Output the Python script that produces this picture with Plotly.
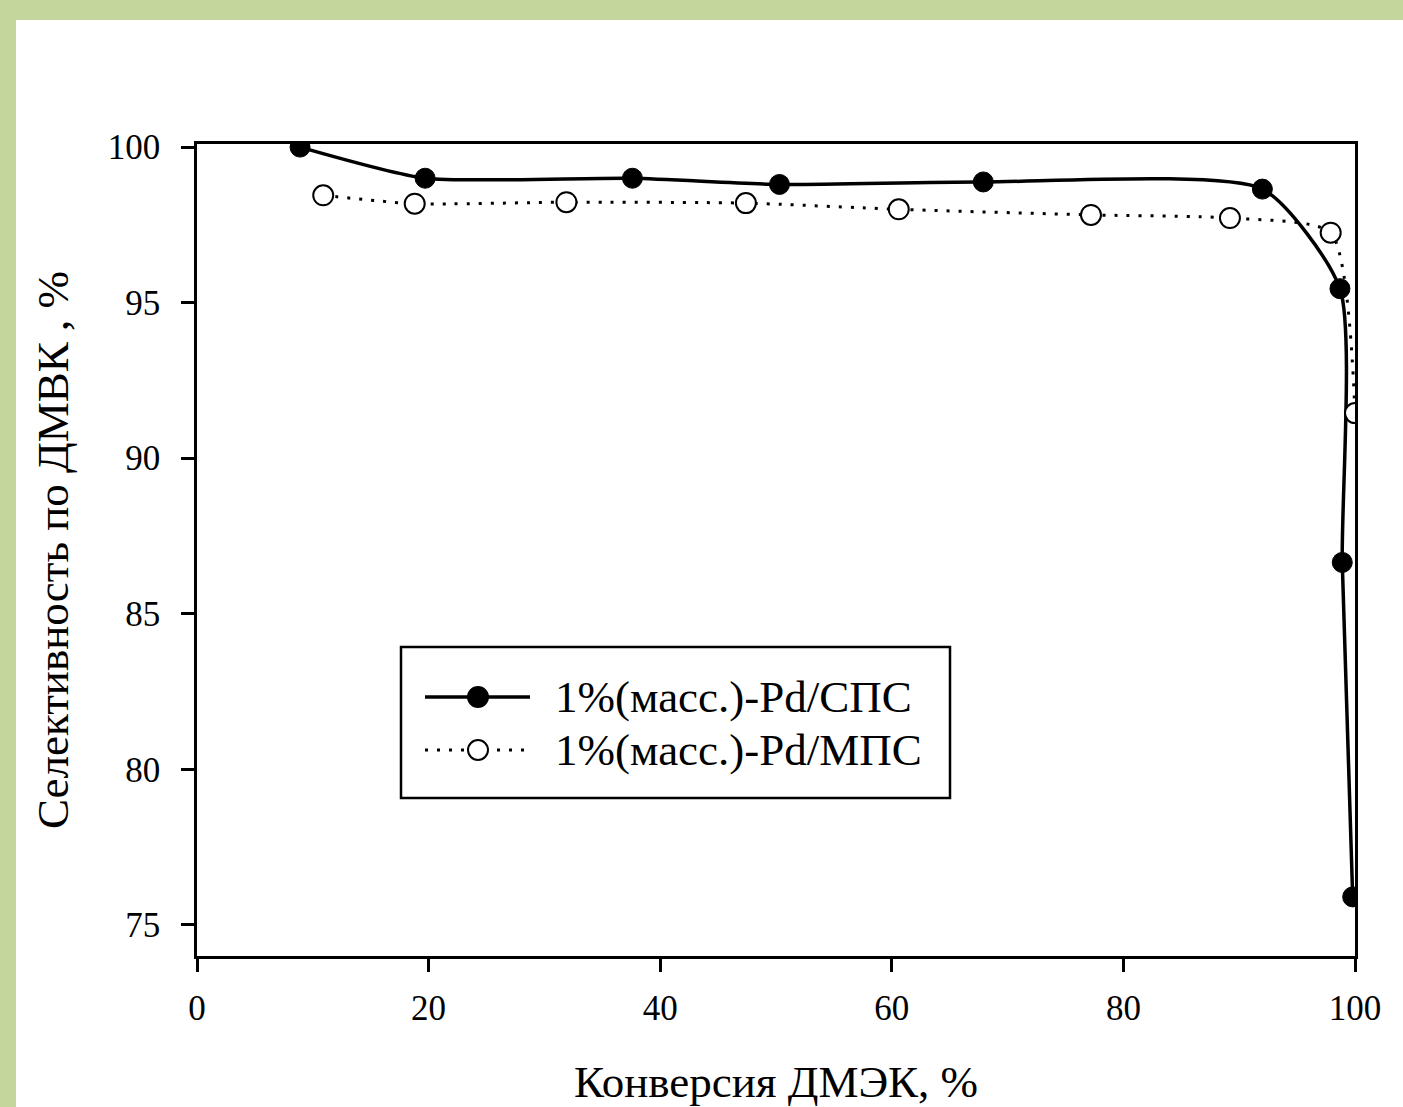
import plotly.graph_objects as go

# Data
x_sps = [8.9, 19.7, 37.6, 50.3, 67.9, 92.0, 98.7, 98.9, 99.8]
y_sps = [100.0, 99.0, 99.0, 98.8, 98.88, 98.65, 95.45, 86.65, 75.9]

x_mps = [10.9, 18.8, 31.9, 47.4, 60.6, 77.2, 89.2, 97.9, 100.0]
y_mps = [98.45, 98.18, 98.23, 98.2, 98.0, 97.82, 97.72, 97.25, 91.45]

name_sps = "1%(масс.)-Pd/СПС"
name_mps = "1%(масс.)-Pd/МПС"

x_ticks = [0, 20, 40, 60, 80, 100]
y_ticks = [75, 80, 85, 90, 95, 100]

FONT = "Liberation Serif, Times New Roman, serif"
DOT = "3px,9px"

fig = go.Figure()
fig.add_trace(go.Scatter(
    x=x_sps, y=y_sps, name=name_sps, mode="lines+markers", showlegend=False,
    line=dict(color="black", width=3.5, shape="spline", smoothing=0.6),
    marker=dict(symbol="circle", size=20, color="black", line=dict(color="black", width=1)),
))
fig.add_trace(go.Scatter(
    x=x_mps, y=y_mps, name=name_mps, mode="lines+markers", showlegend=False,
    line=dict(color="black", width=3, dash=DOT, shape="spline", smoothing=0.6),
    marker=dict(symbol="circle", size=20, color="white", line=dict(color="black", width=2)),
))

W, H = 1403, 1107
L, R, T, B = 197, 48, 144, 151
pw, ph = W - L - R, H - T - B

def px(xp):
    return (xp - L) / pw

def py(yp):
    return (H - B - yp) / ph

shapes = []
# white page over green frame
shapes.append(dict(type="rect", xref="paper", yref="paper",
                   x0=px(16), x1=px(1420), y0=py(20), y1=py(1120),
                   fillcolor="white", line=dict(width=0), layer="below"))
# legend box
shapes.append(dict(type="rect", xref="paper", yref="paper",
                   x0=px(401), x1=px(950), y0=py(647), y1=py(798),
                   fillcolor="white", line=dict(color="black", width=2.5), layer="above"))
rows = [(697, "solid", 3.5, "black", 2, name_sps), (750, DOT, 3, "white", 2, name_mps)]
annotations = []
for yc, dash, lw, fill, mlw, label in rows:
    shapes.append(dict(type="line", xref="paper", yref="paper",
                       x0=px(425), x1=px(530), y0=py(yc), y1=py(yc),
                       line=dict(color="black", width=lw, dash=dash), layer="above"))
    shapes.append(dict(type="circle", xref="paper", yref="paper",
                       xsizemode="pixel", ysizemode="pixel",
                       xanchor=px(478), yanchor=py(yc),
                       x0=-10, x1=10, y0=-10, y1=10,
                       fillcolor=fill, line=dict(color="black", width=mlw), layer="above"))
    annotations.append(dict(xref="paper", yref="paper", x=px(553), y=py(yc),
                            xanchor="left", yanchor="middle", showarrow=False,
                            text=label, font=dict(family=FONT, size=45, color="black")))

fig.update_layout(
    width=W, height=H,
    margin=dict(l=L, r=R, t=T, b=B, autoexpand=False),
    paper_bgcolor="#c5d69c",
    plot_bgcolor="white",
    font=dict(family=FONT, color="black", size=35),
    showlegend=False,
    shapes=shapes,
    annotations=annotations,
    xaxis=dict(
        range=[0, 100], tickvals=x_ticks, ticks="outside", ticklen=13, tickwidth=2.5,
        tickcolor="black", showline=True, linecolor="black", linewidth=2.5, mirror=True,
        showgrid=False, zeroline=False, ticklabelstandoff=6, automargin=False,
        tickfont=dict(family=FONT, size=35),
        title=dict(text="Конверсия ДМЭК, %", font=dict(family=FONT, size=45), standoff=42),
    ),
    yaxis=dict(
        range=[74, 100.1], tickvals=y_ticks, ticks="outside", ticklen=13, tickwidth=2.5,
        tickcolor="black", showline=True, linecolor="black", linewidth=2.5, mirror=True,
        showgrid=False, zeroline=False, ticklabelstandoff=14, automargin=False,
        tickfont=dict(family=FONT, size=35),
        title=dict(text="Селективность по ДМВК , %", font=dict(family=FONT, size=45), standoff=26),
    ),
)

fig.write_html("out.html", config={"displayModeBar": False},
               post_script="document.body.style.margin='0';document.body.style.background='#c5d69c';")
